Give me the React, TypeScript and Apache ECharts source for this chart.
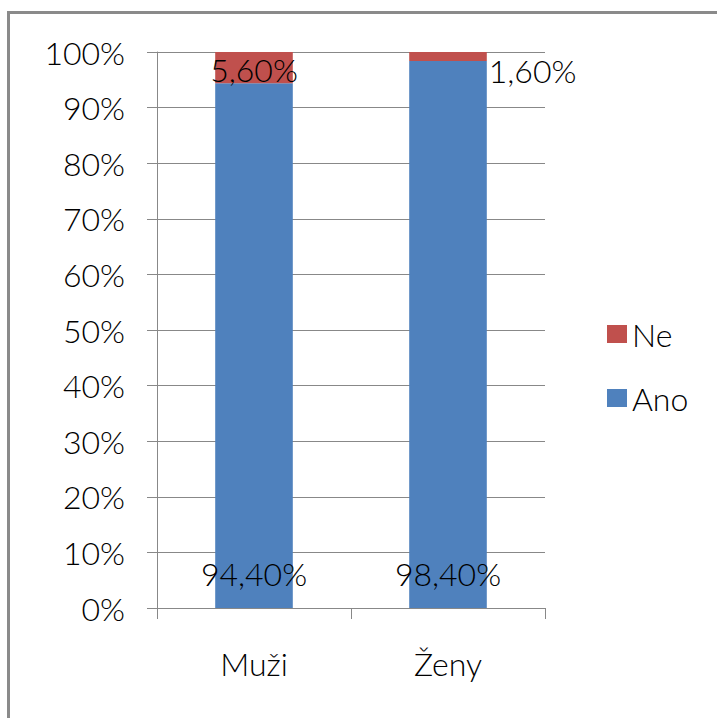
import React, { useEffect, useRef } from "react";
import * as echarts from "echarts";

const categories = ["Muži", "Ženy"];
const anoValues = [94.4, 98.4];
const neValues = [5.6, 1.6];
const yTicks = [0, 10, 20, 30, 40, 50, 60, 70, 80, 90, 100];

const FONT = "Lato";
const FS = 32;
const FW = 300;
const fmt = (v: number) => v.toFixed(2).replace(".", ",") + "%";

export default function App() {
  const ref = useRef<HTMLDivElement>(null);
  useEffect(() => {
    if (!ref.current) return;
    const chart = echarts.init(ref.current, undefined, { renderer: "svg" });
    chart.setOption({
      animation: false,
      backgroundColor: "#ffffff",
      textStyle: { fontFamily: FONT },
      graphic: [
        {
          type: "rect",
          shape: { x: 8.5, y: 12.5, width: 760, height: 760 },
          style: { fill: "none", stroke: "#8a8a8a", lineWidth: 3 },
          silent: true,
        },
      ],
      grid: { left: 157, top: 52, width: 388, height: 556 },
      legend: {
        orient: "vertical",
        left: 602,
        top: 312,
        itemWidth: 20,
        itemHeight: 18,
        itemGap: 30,
        icon: "rect",
        data: ["Ne", "Ano"],
        textStyle: { fontFamily: FONT, fontSize: FS, fontWeight: FW, color: "#000", lineHeight: 34 },
      },
      xAxis: {
        type: "category",
        data: categories,
        axisLine: { lineStyle: { color: "#888", width: 1 } },
        axisTick: { show: true, length: 11, lineStyle: { color: "#888" } },
        axisLabel: { margin: 39, fontFamily: FONT, fontSize: FS, fontWeight: FW, color: "#000" },
      },
      yAxis: {
        type: "value",
        min: yTicks[0],
        max: yTicks[yTicks.length - 1],
        interval: 10,
        axisLine: { show: true, lineStyle: { color: "#888", width: 1 } },
        axisTick: { show: true, length: 10, lineStyle: { color: "#888" } },
        splitLine: { show: true, lineStyle: { color: "#888", width: 1 } },
        axisLabel: {
          margin: 32,
          fontFamily: FONT,
          fontSize: FS,
          fontWeight: FW,
          color: "#000",
          formatter: (v: number) => v + "%",
        },
      },
      series: [
        {
          name: "Ano",
          type: "bar",
          stack: "s",
          barWidth: "40%",
          itemStyle: { color: "#4F81BD" },
          data: anoValues,
          label: {
            show: true,
            position: "insideBottom",
            distance: 19,
            fontFamily: FONT,
            fontSize: FS,
            fontWeight: FW,
            color: "#000",
            formatter: (p: any) => fmt(p.value),
          },
        },
        {
          name: "Ne",
          type: "bar",
          stack: "s",
          barWidth: "40%",
          itemStyle: { color: "#C0504D" },
          data: neValues.map((v, i) =>
            i === 1
              ? { value: v, label: { position: "right", distance: 2, offset: [0, 14] } }
              : { value: v, label: { position: "inside", offset: [0, 2] } }
          ),
          label: {
            show: true,
            fontFamily: FONT,
            fontSize: FS,
            fontWeight: FW,
            color: "#000",
            formatter: (p: any) => fmt(p.value),
          },
        },
      ],
    });
    return () => chart.dispose();
  }, []);
  return (
    <div
      ref={ref}
      style={{ position: "fixed", left: 0, top: 0, width: 717, height: 718 }}
    />
  );
}
